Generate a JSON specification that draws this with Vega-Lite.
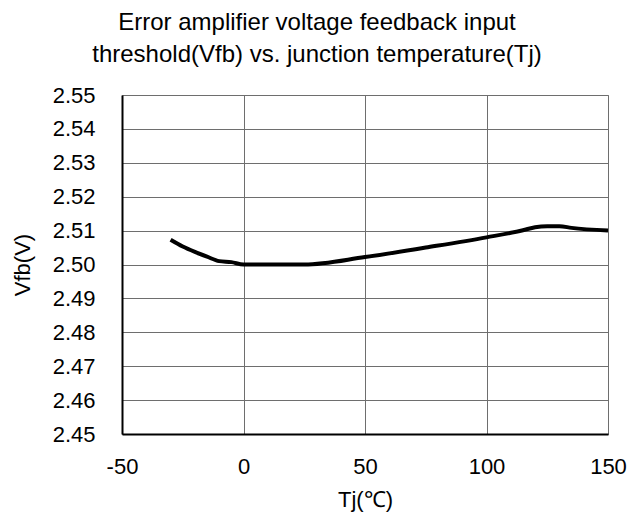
{
  "$schema": "https://vega.github.io/schema/vega-lite/v6.json",
  "autosize": "none",
  "padding": {"left": 122, "top": 95, "right": 23, "bottom": 80},
  "width": 486,
  "height": 339,
  "background": "white",
  "title": {
    "text": ["Error amplifier voltage feedback input", "threshold(Vfb) vs. junction temperature(Tj)"],
    "font": "Liberation Sans",
    "fontSize": 24,
    "fontWeight": "normal",
    "color": "#000000",
    "lineHeight": 32,
    "anchor": "middle",
    "dx": -48,
    "offset": 17
  },
  "config": {
    "view": {"stroke": "#9a9a9a", "strokeWidth": 1},
    "axis": {
      "labelFont": "Liberation Sans",
      "titleFont": "Liberation Sans",
      "labelFontSize": 22,
      "titleFontSize": 22,
      "titleFontWeight": "normal",
      "labelColor": "#000000",
      "titleColor": "#000000",
      "gridColor": "#6e6e6e",
      "gridOpacity": 1,
      "gridWidth": 1,
      "domainColor": "#000000",
      "domainWidth": 2,
      "ticks": false
    }
  },
  "data": {
    "values": [
      {"tj": -30, "vfb": 2.5073},
      {"tj": -25, "vfb": 2.5053},
      {"tj": -20, "vfb": 2.5037},
      {"tj": -15, "vfb": 2.5023},
      {"tj": -10, "vfb": 2.5010},
      {"tj": -5, "vfb": 2.5007},
      {"tj": 0, "vfb": 2.5000},
      {"tj": 25, "vfb": 2.5000},
      {"tj": 50, "vfb": 2.5022},
      {"tj": 75, "vfb": 2.5050},
      {"tj": 100, "vfb": 2.5080},
      {"tj": 115, "vfb": 2.5101},
      {"tj": 120, "vfb": 2.5110},
      {"tj": 125, "vfb": 2.5113},
      {"tj": 130, "vfb": 2.5113},
      {"tj": 135, "vfb": 2.5108},
      {"tj": 150, "vfb": 2.5100}
    ]
  },
  "mark": {"type": "line", "color": "#000000", "strokeWidth": 4, "interpolate": "monotone"},
  "encoding": {
    "x": {
      "field": "tj",
      "type": "quantitative",
      "scale": {"domain": [-50, 150], "nice": false},
      "axis": {
        "values": [-50, 0, 50, 100, 150],
        "labelExpr": "'' + datum.value",
        "title": "Tj(℃)",
        "labelPadding": 22,
        "titlePadding": 12,
        "labelFlush": false
      }
    },
    "y": {
      "field": "vfb",
      "type": "quantitative",
      "scale": {"domain": [2.45, 2.55], "nice": false, "zero": false},
      "axis": {
        "values": [2.45, 2.46, 2.47, 2.48, 2.49, 2.5, 2.51, 2.52, 2.53, 2.54, 2.55],
        "format": ".2f",
        "title": "Vfb(V)",
        "labelPadding": 27,
        "titlePadding": 18,
        "labelFlush": false
      }
    }
  }
}
